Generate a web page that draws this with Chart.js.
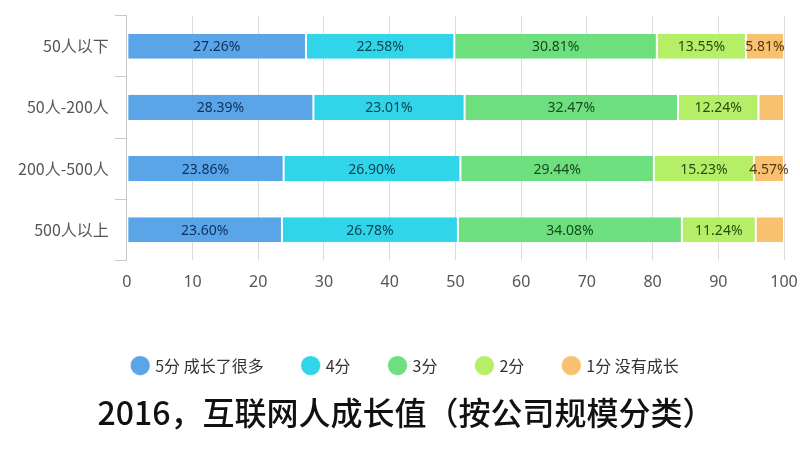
<!DOCTYPE html>
<html>
<head>
<meta charset="utf-8">
<script src="https://cdn.jsdelivr.net/npm/chart.js@4/dist/chart.umd.min.js"></script>
<style>
    html, body { margin: 0; padding: 0; background: #fff; }
    #wrap { width: 800px; height: 454px; }
</style>
</head>
<body>
<div id="wrap"><canvas id="growthChart"></canvas></div>
<script>
const categories = ['50人以下', '50人-200人', '200人-500人', '500人以上'];
const seriesNames = ['5分 成长了很多', '4分', '3分', '2分', '1分 没有成长'];
const score5 = [27.26, 28.39, 23.86, 23.60];
const score4 = [22.58, 23.01, 26.90, 26.78];
const score3 = [30.81, 32.47, 29.44, 34.08];
const score2 = [13.55, 12.24, 15.23, 11.24];
const score1 = [5.81, 3.89, 4.57, 4.30];
const xTicks = [0, 10, 20, 30, 40, 50, 60, 70, 80, 90, 100];

const fills = ['#5aa5e8', '#30d5ea', '#6ddf7e', '#b5ef68', '#f8c170'];
const labelColors = ['#0f2f5c', '#0d4550', '#174a1f', '#2c4a0e', '#5a3510'];

// labels inside the segments, the small ones are left empty
const segmentLabels = {
    id: 'segmentLabels',
    afterDatasetsDraw(chart) {
        const ctx = chart.ctx;
        ctx.save();
        ctx.font = "14px 'Noto Sans', 'Noto Sans CJK SC', sans-serif";
        ctx.textAlign = 'center';
        ctx.textBaseline = 'middle';
        chart.data.datasets.forEach((ds, i) => {
            const meta = chart.getDatasetMeta(i);
            if (meta.hidden) return;
            meta.data.forEach((bar, j) => {
                const v = ds.data[j];
                if (v < 4.5) return;
                const p = bar.getCenterPoint();
                ctx.fillStyle = labelColors[i];
                ctx.fillText(v.toFixed(2) + '%', p.x, p.y + 1);
            });
        });
        ctx.restore();
    }
};

const series = [score5, score4, score3, score2, score1];

new Chart(document.getElementById('growthChart'), {
    type: 'bar',
    data: {
        labels: categories,
        datasets: series.map((values, i) => ({
            label: seriesNames[i],
            data: values,
            backgroundColor: fills[i],
            borderColor: '#ffffff',
            borderWidth: { left: 1, right: 1, top: 0, bottom: 0 },
            borderSkipped: false,
            barPercentage: 0.41,
            categoryPercentage: 1
        }))
    },
    options: {
        indexAxis: 'y',
        responsive: true,
        maintainAspectRatio: false,
        animation: false,
        layout: { padding: { top: 13, right: 0, left: 12, bottom: 22 } },
        scales: {
            x: {
                stacked: true,
                min: 0,
                max: 100,
                afterBuildTicks: scale => {
                    scale.ticks = xTicks.map(v => ({ value: v }));
                },
                afterFit: scale => {
                    scale.height += 14;
                    scale.paddingRight = 16; // let "100" run close to the edge
                },
                grid: { color: '#dcdcdc', drawTicks: false },
                border: { display: false },
                ticks: {
                    color: '#555',
                    padding: 12,
                    font: { size: 16, family: "'Noto Sans', sans-serif" }
                }
            },
            y: {
                stacked: true,
                grid: { drawOnChartArea: false, color: '#c8c8c8', tickLength: 12, offset: true },
                border: { color: '#c8c8c8' },
                ticks: {
                    color: '#555',
                    padding: 6,
                    font: { size: 16, family: "'Noto Sans CJK SC', sans-serif" }
                }
            }
        },
        plugins: {
            legend: {
                position: 'bottom',
                labels: {
                    usePointStyle: true,
                    pointStyle: 'circle',
                    boxWidth: 14,
                    boxHeight: 14,
                    padding: 40,
                    color: '#333',
                    font: { size: 16, family: "'Noto Sans CJK SC', sans-serif" }
                }
            },
            title: {
                display: true,
                position: 'bottom',
                text: '2016，互联网人成长值（按公司规模分类）',
                color: '#111',
                padding: { top: 10, bottom: 0 },
                font: { size: 32, weight: '500', family: "'Noto Sans CJK SC', sans-serif" }
            },
            tooltip: { enabled: false }
        }
    },
    plugins: [segmentLabels]
});
</script>
</body>
</html>
